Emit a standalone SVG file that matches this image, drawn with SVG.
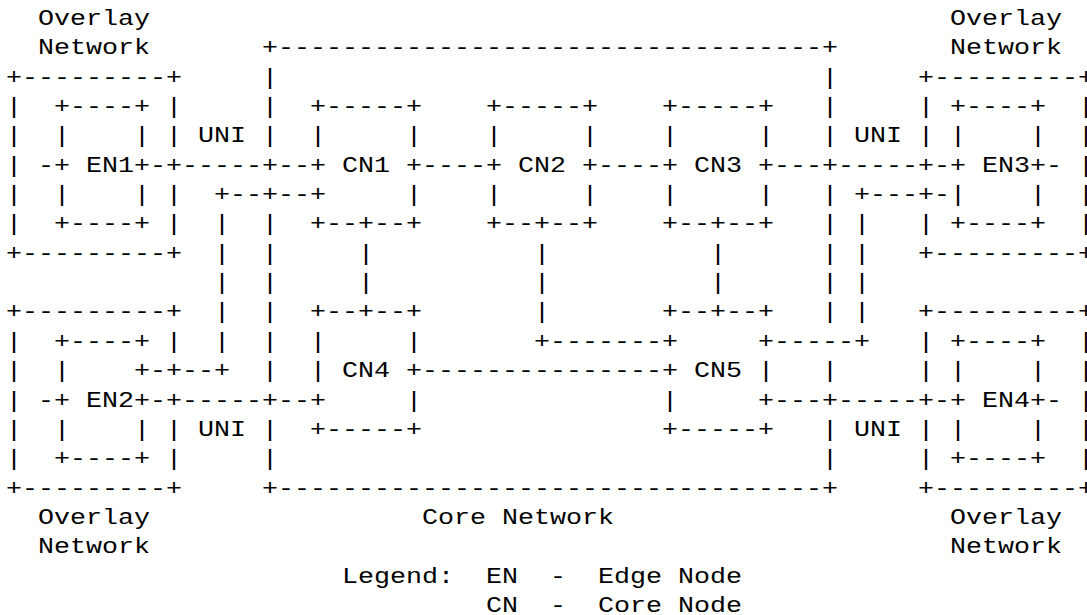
<svg xmlns="http://www.w3.org/2000/svg" width="1087" height="615" viewBox="0 0 1087 615" xml:space="preserve">
<style>
text { font-family: "Liberation Mono", "Courier New", monospace; font-size: 22px; fill: #000; white-space: pre; }
</style>
<rect width="1087" height="615" fill="#fff"/>
<g transform="scale(1.212121 1)">
<g id="overlay-network-1">
<text x="31.35" y="25">Overlay</text>
<text x="31.35" y="54.35">Network</text>
<text x="4.95" y="83.7">+---------+</text>
<text x="4.95" y="113.05">|</text><text x="136.95" y="113.05">|</text>
<text x="4.95" y="142.4">|</text><text x="136.95" y="142.4">|</text>
<text x="4.95" y="171.75">|</text>
<text x="4.95" y="201.1">|</text><text x="136.95" y="201.1">|</text>
<text x="4.95" y="230.45">|</text><text x="136.95" y="230.45">|</text>
<text x="4.95" y="259.8">+---------+</text>
</g>
<g id="overlay-network-2">
<text x="4.95" y="318.5">+---------+</text>
<text x="4.95" y="347.85">|</text><text x="136.95" y="347.85">|</text>
<text x="4.95" y="377.2">|</text>
<text x="4.95" y="406.55">|</text>
<text x="4.95" y="435.9">|</text><text x="136.95" y="435.9">|</text>
<text x="4.95" y="465.25">|</text><text x="136.95" y="465.25">|</text>
<text x="4.95" y="494.6">+---------+</text>
<text x="31.35" y="523.95">Overlay</text>
<text x="31.35" y="553.3">Network</text>
</g>
<g id="overlay-network-3">
<text x="783.75" y="25">Overlay</text>
<text x="783.75" y="54.35">Network</text>
<text x="757.35" y="83.7">+---------+</text>
<text x="757.35" y="113.05">|</text><text x="889.35" y="113.05">|</text>
<text x="757.35" y="142.4">|</text><text x="889.35" y="142.4">|</text>
<text x="889.35" y="171.75">|</text>
<text x="889.35" y="201.1">|</text>
<text x="757.35" y="230.45">|</text><text x="889.35" y="230.45">|</text>
<text x="757.35" y="259.8">+---------+</text>
</g>
<g id="overlay-network-4">
<text x="757.35" y="318.5">+---------+</text>
<text x="757.35" y="347.85">|</text><text x="889.35" y="347.85">|</text>
<text x="757.35" y="377.2">|</text><text x="889.35" y="377.2">|</text>
<text x="889.35" y="406.55">|</text>
<text x="757.35" y="435.9">|</text><text x="889.35" y="435.9">|</text>
<text x="757.35" y="465.25">|</text><text x="889.35" y="465.25">|</text>
<text x="757.35" y="494.6">+---------+</text>
<text x="783.75" y="523.95">Overlay</text>
<text x="783.75" y="553.3">Network</text>
</g>
<g id="EN1">
<text x="44.55" y="113.05">+----+</text>
<text x="44.55" y="142.4">|</text><text x="110.55" y="142.4">|</text>
<text x="31.35" y="171.75">-+</text><text x="70.95" y="171.75">EN1+</text>
<text x="44.55" y="201.1">|</text><text x="110.55" y="201.1">|</text>
<text x="44.55" y="230.45">+----+</text>
</g>
<g id="EN2">
<text x="44.55" y="347.85">+----+</text>
<text x="44.55" y="377.2">|</text><text x="110.55" y="377.2">+</text>
<text x="31.35" y="406.55">-+</text><text x="70.95" y="406.55">EN2+</text>
<text x="44.55" y="435.9">|</text><text x="110.55" y="435.9">|</text>
<text x="44.55" y="465.25">+----+</text>
</g>
<g id="EN3">
<text x="783.75" y="113.05">+----+</text>
<text x="783.75" y="142.4">|</text><text x="849.75" y="142.4">|</text>
<text x="783.75" y="171.75">+</text><text x="810.15" y="171.75">EN3+-</text>
<text x="783.75" y="201.1">|</text><text x="849.75" y="201.1">|</text>
<text x="783.75" y="230.45">+----+</text>
</g>
<g id="EN4">
<text x="783.75" y="347.85">+----+</text>
<text x="783.75" y="377.2">|</text><text x="849.75" y="377.2">|</text>
<text x="783.75" y="406.55">+</text><text x="810.15" y="406.55">EN4+-</text>
<text x="783.75" y="435.9">|</text><text x="849.75" y="435.9">|</text>
<text x="783.75" y="465.25">+----+</text>
</g>
<g id="core-network">
<text x="216.15" y="54.35">+----------------------------------+</text>
<text x="216.15" y="83.7">|</text><text x="678.15" y="83.7">|</text>
<text x="216.15" y="113.05">|</text><text x="678.15" y="113.05">|</text>
<text x="216.15" y="142.4">|</text><text x="678.15" y="142.4">|</text>
<text x="678.15" y="201.1">|</text>
<text x="216.15" y="230.45">|</text><text x="678.15" y="230.45">|</text>
<text x="216.15" y="259.8">|</text><text x="678.15" y="259.8">|</text>
<text x="216.15" y="289.15">|</text><text x="678.15" y="289.15">|</text>
<text x="216.15" y="318.5">|</text><text x="678.15" y="318.5">|</text>
<text x="216.15" y="347.85">|</text>
<text x="216.15" y="377.2">|</text><text x="678.15" y="377.2">|</text>
<text x="216.15" y="435.9">|</text><text x="678.15" y="435.9">|</text>
<text x="216.15" y="465.25">|</text><text x="678.15" y="465.25">|</text>
<text x="216.15" y="494.6">+----------------------------------+</text>
<text x="348.15" y="523.95">Core Network</text>
</g>
<g id="CN1">
<text x="255.75" y="113.05">+-----+</text>
<text x="255.75" y="142.4">|</text><text x="334.95" y="142.4">|</text>
<text x="255.75" y="171.75">+</text><text x="282.15" y="171.75">CN1</text><text x="334.95" y="171.75">+</text>
<text x="255.75" y="201.1">+</text><text x="334.95" y="201.1">|</text>
<text x="255.75" y="230.45">+--+--+</text>
</g>
<g id="CN2">
<text x="400.95" y="113.05">+-----+</text>
<text x="400.95" y="142.4">|</text><text x="480.15" y="142.4">|</text>
<text x="400.95" y="171.75">+</text><text x="427.35" y="171.75">CN2</text><text x="480.15" y="171.75">+</text>
<text x="400.95" y="201.1">|</text><text x="480.15" y="201.1">|</text>
<text x="400.95" y="230.45">+--+--+</text>
</g>
<g id="CN3">
<text x="546.15" y="113.05">+-----+</text>
<text x="546.15" y="142.4">|</text><text x="625.35" y="142.4">|</text>
<text x="546.15" y="171.75">+</text><text x="572.55" y="171.75">CN3</text><text x="625.35" y="171.75">+</text>
<text x="546.15" y="201.1">|</text><text x="625.35" y="201.1">|</text>
<text x="546.15" y="230.45">+--+--+</text>
</g>
<g id="CN4">
<text x="255.75" y="318.5">+--+--+</text>
<text x="255.75" y="347.85">|</text><text x="334.95" y="347.85">|</text>
<text x="255.75" y="377.2">|</text><text x="282.15" y="377.2">CN4</text><text x="334.95" y="377.2">+</text>
<text x="255.75" y="406.55">+</text><text x="334.95" y="406.55">|</text>
<text x="255.75" y="435.9">+-----+</text>
</g>
<g id="CN5">
<text x="546.15" y="318.5">+--+--+</text>
<text x="546.15" y="347.85">+</text><text x="625.35" y="347.85">+</text>
<text x="546.15" y="377.2">+</text><text x="572.55" y="377.2">CN5</text><text x="625.35" y="377.2">|</text>
<text x="546.15" y="406.55">|</text><text x="625.35" y="406.55">+</text>
<text x="546.15" y="435.9">+-----+</text>
</g>
<g id="connectors">
<g id="link-EN1-CN1"><text x="123.75" y="171.75">-+-----+--</text></g>
<g id="link-CN1-EN2">
<text x="176.55" y="201.1">+--+--</text>
<text x="176.55" y="230.45">|</text>
<text x="176.55" y="259.8">|</text>
<text x="176.55" y="289.15">|</text>
<text x="176.55" y="318.5">|</text>
<text x="176.55" y="347.85">|</text>
<text x="123.75" y="377.2">-+--+</text>
</g>
<g id="link-EN2-CN4"><text x="123.75" y="406.55">-+-----+--</text></g>
<g id="link-CN1-CN2"><text x="348.15" y="171.75">----</text></g>
<g id="link-CN2-CN3"><text x="493.35" y="171.75">----</text></g>
<g id="link-CN3-EN3"><text x="638.55" y="171.75">---+-----+-</text></g>
<g id="link-CN1-CN4">
<text x="295.35" y="259.8">|</text>
<text x="295.35" y="289.15">|</text>
</g>
<g id="link-CN2-CN5">
<text x="440.55" y="259.8">|</text>
<text x="440.55" y="289.15">|</text>
<text x="440.55" y="318.5">|</text>
<text x="440.55" y="347.85">+-------</text>
</g>
<g id="link-CN3-CN5">
<text x="585.75" y="259.8">|</text>
<text x="585.75" y="289.15">|</text>
</g>
<g id="link-CN4-CN5"><text x="348.15" y="377.2">---------------</text></g>
<g id="link-CN5-EN3">
<text x="638.55" y="347.85">-----+</text>
<text x="704.55" y="318.5">|</text>
<text x="704.55" y="289.15">|</text>
<text x="704.55" y="259.8">|</text>
<text x="704.55" y="230.45">|</text>
<text x="704.55" y="201.1">+---+-</text>
</g>
<g id="link-CN5-EN4"><text x="638.55" y="406.55">---+-----+-</text></g>
</g>
<g id="uni-labels">
<text x="163.35" y="142.4">UNI</text>
<text x="704.55" y="142.4">UNI</text>
<text x="163.35" y="435.9">UNI</text>
<text x="704.55" y="435.9">UNI</text>
</g>
<g id="legend">
<text x="282.15" y="582.65">Legend:</text><text x="400.95" y="582.65">EN</text><text x="453.75" y="582.65">-</text><text x="493.35" y="582.65">Edge Node</text>
<text x="400.95" y="612">CN</text><text x="453.75" y="612">-</text><text x="493.35" y="612">Core Node</text>
</g>
</g>
</svg>
